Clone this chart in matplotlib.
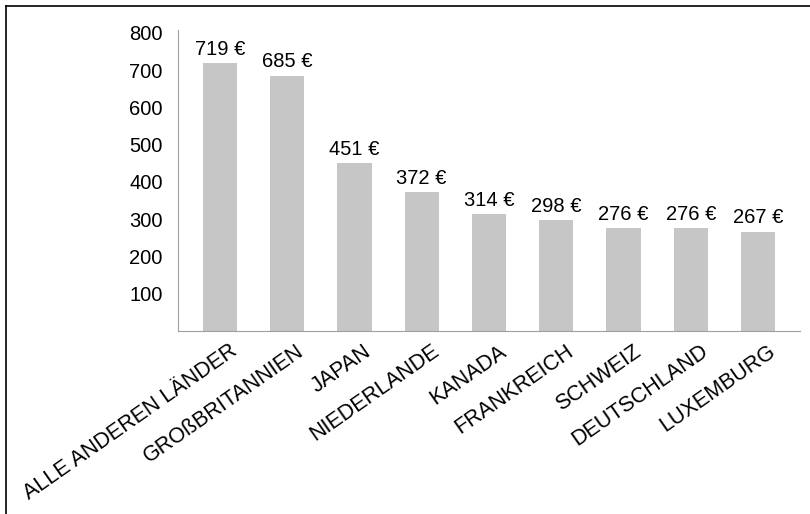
import matplotlib.pyplot as plt
import matplotlib.transforms as mtransforms
import numpy as np
from matplotlib.lines import Line2D

plt.rcParams['font.family'] = ['Liberation Sans', 'DejaVu Sans']

# data
countries = ['ALLE ANDEREN LÄNDER', 'GROßBRITANNIEN', 'JAPAN', 'NIEDERLANDE',
             'KANADA', 'FRANKREICH', 'SCHWEIZ', 'DEUTSCHLAND', 'LUXEMBURG']
values = [719, 685, 451, 372, 314, 298, 276, 276, 267]
yticks = [100, 200, 300, 400, 500, 600, 700, 800]

fs = 14.5

fig = plt.figure(figsize=(8.1, 5.14), dpi=100)
ax = fig.add_axes([178 / 810, 1 - 331 / 514, 622 / 810, (331 - 30) / 514])

x = np.arange(len(countries))
ax.bar(x, values, width=0.51, color='#c6c6c6')

for xi, v in zip(x, values):
    ax.text(xi, v + 12, f'{v} €', ha='center', va='bottom', fontsize=fs)

ax.set_xlim(-0.62, len(countries) - 0.38)
ax.set_ylim(0, 808)
ax.set_yticks(yticks)
ax.set_yticklabels([str(t) for t in yticks], fontsize=fs)
ax.tick_params(axis='y', length=0, pad=11)
ax.tick_params(axis='x', length=0, pad=7)
ax.set_xticks(x)
ax.set_xticklabels(countries, rotation=35, ha='right', rotation_mode='anchor',
                   fontsize=15.5)
shift = mtransforms.ScaledTranslation(9 / 100, 0, fig.dpi_scale_trans)
for lbl in ax.get_xticklabels():
    lbl.set_transform(lbl.get_transform() + shift)

ax.spines['top'].set_visible(False)
ax.spines['right'].set_visible(False)
ax.spines['left'].set_color('#a0a0a0')
ax.spines['bottom'].set_color('#a0a0a0')

# outer frame (top and left edges visible)
fig.add_artist(Line2D([6 / 810, 1], [1 - 6 / 514, 1 - 6 / 514], color='black', lw=1.2))
fig.add_artist(Line2D([6 / 810, 6 / 810], [0, 1 - 6 / 514], color='black', lw=1.2))

fig.savefig('out.png', dpi=100)
